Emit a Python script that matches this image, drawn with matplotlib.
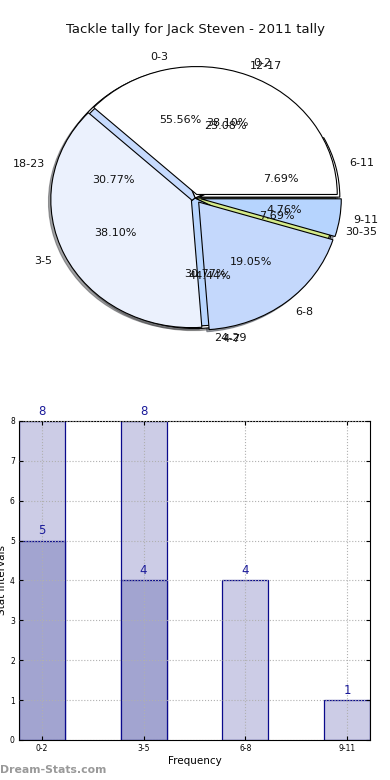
import matplotlib
matplotlib.use('Agg')
import matplotlib.pyplot as plt
import numpy as np

title = "Tackle tally for Jack Steven - 2011 tally"

pie_a_labels = ['0-3', '4-7']
pie_a_values = [5, 4]
pie_b_labels = ['6-11', '12-17', '18-23', '24-29', '30-35']
pie_b_values = [1, 3, 4, 4, 1]
pie_c_labels = ['0-2', '3-5', '6-8', '9-11']
pie_c_values = [8, 8, 4, 1]

bar_categories = ['0-2', '3-5', '6-8', '9-11']
bar_light = [8, 8, 4, 1]
bar_dark = [5, 4]

fig = plt.figure(figsize=(3.9, 7.8), dpi=100)

# ---- pie section ----
ax1 = fig.add_axes([0.0499, 0.5411, 0.901, 0.410])
wp = dict(edgecolor='black', linewidth=0.8)
tp = dict(fontsize=8, color='#111111')
sh = dict(ox=-0.012, oy=-0.012, shade=0.7)

ax1.pie(pie_a_values, labels=pie_a_labels, autopct='%1.2f%%', shadow=sh,
        colors=['#ffffff', '#ffffff'], explode=[0.02, 0.02],
        labeldistance=1.1, pctdistance=0.6, startangle=0,
        wedgeprops=wp, textprops=tp)
ax1.pie(pie_b_values, labels=pie_b_labels, autopct='%1.2f%%', shadow=sh,
        colors=['#ffffff', '#ffffff', '#c6dafd', '#b8d5fe', '#d4ea8a'],
        explode=[0.03, 0.0, 0.0, 0.0, 0.0],
        labeldistance=1.1, pctdistance=0.6, startangle=0,
        wedgeprops=wp, textprops=tp)
ax1.pie(pie_c_values, labels=pie_c_labels, autopct='%1.2f%%', shadow=sh,
        colors=['#ffffff', '#ebf1fd', '#c4d8fc', '#b6d4fe'],
        explode=[0.03, 0.03, 0.04, 0.04],
        labeldistance=1.1, pctdistance=0.6, startangle=0,
        wedgeprops=wp, textprops=tp)
ax1.set_aspect('auto')
ax1.set_xlim(-1.25, 1.25)
ax1.set_ylim(-1.25, 1.25)
ax1.axis('off')

fig.text(0.5, 1 - 30 / 780, title, ha='center', va='center', fontsize=9.5,
         color='#111111')

# ---- bar section ----
ax2 = fig.add_axes([0.0487, 0.0513, 0.9, 0.409])
x = np.arange(len(bar_categories))
ax2.bar(x, bar_light, width=0.45, color='#ccccE6', edgecolor='#0a0a8c',
        linewidth=0.9, zorder=2)
xd = np.arange(len(bar_dark))
ax2.bar(xd, bar_dark, width=0.45, color='#a2a4d0', edgecolor='#0a0a8c',
        linewidth=0.9, zorder=2)
for xi, v in zip(x, bar_light):
    ax2.text(xi, v + 0.08, str(v), ha='center', va='bottom', color='#1a1a9a',
             fontsize=8.5, clip_on=False)
for xi, v in zip(xd, bar_dark):
    ax2.text(xi, v + 0.08, str(v), ha='center', va='bottom', color='#1a1a9a',
             fontsize=8.5, clip_on=False)

ax2.set_xlim(-0.225, 3.225)
ax2.set_ylim(0, 8)
ax2.set_xticks(x)
ax2.set_xticklabels(bar_categories)
ax2.set_yticks(range(0, 9))
ax2.grid(True, linestyle=':', color='#b0b0b0', linewidth=0.8, zorder=3)
ax2.set_axisbelow(False)
ax2.tick_params(direction='in', labelsize=5.5, top=True, right=True,
                length=3, pad=3)
ax2.set_xlabel('Frequency', fontsize=7.5, labelpad=2)
ax2.set_ylabel('Stat Intervals', fontsize=7.5, labelpad=2)
for s in ax2.spines.values():
    s.set_linewidth(0.8)

fig.text(0.0, 1 - 770 / 780, 'Dream-Stats.com', ha='left', va='center',
         fontsize=7.8, color='#999999', fontweight='bold')

fig.savefig('out.png', dpi=100)
